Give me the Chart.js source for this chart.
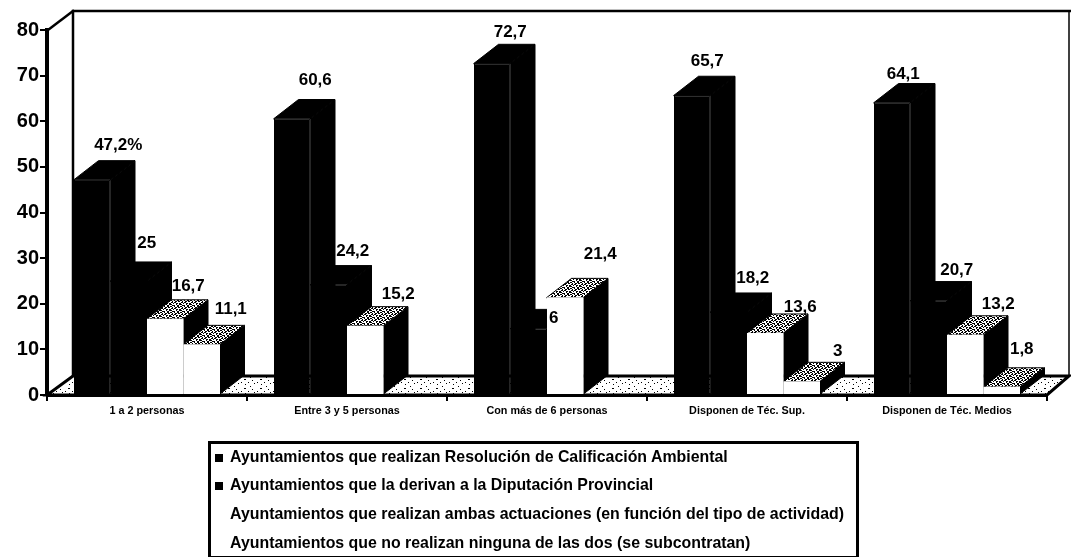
<!DOCTYPE html>
<html><head><meta charset="utf-8">
<script src="https://cdn.jsdelivr.net/npm/chart.js@4"></script>
<style>
html,body{margin:0;padding:0;background:#fff;overflow:hidden}
#wrap{position:relative;width:1071px;height:559px}
canvas{position:absolute;left:0;top:0}
#legend{position:absolute;left:208px;top:441px;width:645px;height:112px;border:2px solid #000;border-width:3px 3px 1px 3px;
 font:bold 15.9px "Liberation Sans",Arial,sans-serif;color:#000;box-sizing:content-box}
#legend div{position:absolute;left:19px;white-space:nowrap;line-height:18px}
#legend i{position:absolute;left:-15px;top:6px;width:8px;height:8px;display:block}
</style></head><body>
<div id="wrap"><canvas id="c" width="1071" height="559"></canvas><div id="legend"></div></div>
<script>
const categories = ["1 a 2 personas","Entre 3 y 5 personas","Con más de 6 personas","Disponen de Téc. Sup.","Disponen de Téc. Medios"];
const seriesNames = ["Ayuntamientos que realizan Resolución de Calificación Ambiental","Ayuntamientos que la derivan a la Diputación Provincial","Ayuntamientos que realizan ambas actuaciones (en función del tipo de actividad)","Ayuntamientos que no realizan ninguna de las dos (se subcontratan)"];
const resolucion = [47.2,60.6,72.7,65.7,64.1];
const diputacion = [25,24.2,14.6,18.2,20.7];
const ambas = [16.7,15.2,21.4,13.6,13.2];
const ninguna = [11.1,0,0,3,1.8];
const yTicks = [0,10,20,30,40,50,60,70,80];
const printedLabels = [
 ["47,2%","60,6","72,7","65,7","64,1"],
 ["25","24,2","6","18,2","20,7"],
 ["16,7","15,2","21,4","13,6","13,2"],
 ["11,1","","","3","1,8"]];
/* hand placement of the annotations relative to each bar's front-top point */
const labelNudge = [
 [[26,-34],[23,-38],[18,-31],[15,-34],[11,-28]],
 [[18,-38],[24,-33],[25,-10],[24,-34],[28,-30]],
 [[23,-32],[33,-31],[35,-43],[35,-26],[33,-30]],
 [[29,-35],[0,0],[0,0],[36,-30],[20,-37]]];
const DX=24.5, DY=-19;
function makeTile(rows){const c=document.createElement('canvas');c.width=rows[0].length;c.height=rows.length;const t=c.getContext('2d');
 t.fillStyle='#fff';t.fillRect(0,0,c.width,c.height);t.fillStyle='#000';
 rows.forEach((r,y)=>[...r].forEach((b,x)=>{if(b==='1')t.fillRect(x,y,1,1);}));return c;}
const topTile=makeTile(["1100100110","0010011011","0110110000","1001001101","1100001001","0011100110"]);
const floorTile=makeTile(["0000000000000000","0000110000000000","0000000000001000","0000000000000000","0100000010000000","0000000000000010","0000010000000000","0000000000000000","0000000000100000"]);
const speckleSeries=[false,false,true,true];
const depth3D={id:'depth3D',beforeDatasetsDraw(chart){
 const ctx=chart.ctx,a=chart.chartArea,pat=ctx.createPattern(topTile,'repeat'),fpat=ctx.createPattern(floorTile,'repeat');
 const poly=(p)=>{ctx.beginPath();p.forEach((q,i)=>i?ctx.lineTo(q[0],q[1]):ctx.moveTo(q[0],q[1]));ctx.closePath();};
 ctx.save();
 ctx.strokeStyle='#000';ctx.lineCap='square';
 ctx.lineWidth=2.5;ctx.beginPath();ctx.moveTo(a.left+26,a.bottom+DY);ctx.lineTo(a.left+26,a.top+DY);ctx.lineTo(1071,a.top+DY);ctx.stroke();
 ctx.beginPath();ctx.moveTo(a.left+1,a.top);ctx.lineTo(a.left+26,a.top+DY);ctx.stroke();
 ctx.lineWidth=1.5;ctx.beginPath();ctx.moveTo(a.right+22,a.top+DY);ctx.lineTo(a.right+22,a.bottom+DY);ctx.stroke();
 poly([[a.left,a.bottom],[a.right,a.bottom],[a.right+22,a.bottom+DY],[a.left+26,a.bottom+DY]]);
 ctx.fillStyle=fpat;ctx.fill();ctx.lineWidth=3;ctx.stroke();
 chart.data.datasets.forEach((ds,i)=>{
  chart.getDatasetMeta(i).data.forEach((bar,j)=>{
   if(!ds.data[j])return;
   const w=bar.width,l=bar.x-w/2,r=bar.x+w/2,t=bar.y,b=bar.base;
   ctx.lineWidth=1;
   ctx.fillStyle='#000';
   poly([[r,t],[r+DX,t+DY],[r+DX,b+DY],[r,b]]);ctx.fill();ctx.stroke();
   poly([[l,t],[l+DX,t+DY],[r+DX,t+DY],[r,t]]);
   ctx.fillStyle=speckleSeries[i]?pat:'#000';ctx.fill();ctx.stroke();
  });
 });
 ctx.restore();
}};
const barLabels={id:'barLabels',afterDatasetsDraw(chart){
 const ctx=chart.ctx;ctx.save();ctx.fillStyle='#000';ctx.font='bold 17px "Liberation Sans",Arial,sans-serif';ctx.textAlign='center';ctx.textBaseline='middle';
 printedLabels.forEach((row,i)=>{const m=chart.getDatasetMeta(i);
  row.forEach((s,j)=>{if(!s)return;const b=m.data[j];const n=labelNudge[i][j];ctx.fillText(s,b.x+n[0],b.y+n[1]);});});
 ctx.restore();
}};
const fills=['#000','#000','#fff','#fff'];
new Chart(document.getElementById('c'),{
 type:'bar',
 data:{labels:categories,datasets:[resolucion,diputacion,ambas,ninguna].map((d,i)=>({label:seriesNames[i],data:d,backgroundColor:fills[i],borderColor:fills[i],borderWidth:i<2?1:0,categoryPercentage:0.73,barPercentage:1}))},
 plugins:[depth3D,barLabels],
 options:{responsive:false,animation:false,layout:{padding:{top:30,right:24,left:0,bottom:0}},
  plugins:{legend:{display:false},tooltip:{enabled:false}},
  scales:{
   x:{grid:{display:true,drawOnChartArea:false,offset:true,color:'#000',lineWidth:2,tickLength:6},border:{display:true,color:'#000',width:3},
      ticks:{color:'#000',font:{family:'"Liberation Sans",Arial,sans-serif',size:10.8,weight:'bold'},padding:4,maxRotation:0,autoSkip:false},
      afterFit(s){s.height=559-395;}},
   y:{min:0,max:80,grid:{drawOnChartArea:false,color:'#000',lineWidth:2,tickLength:7},border:{display:true,color:'#000',width:4},
      afterBuildTicks(s){s.ticks=yTicks.map(v=>({value:v}));},
      ticks:{color:'#000',font:{family:'"Liberation Sans",Arial,sans-serif',size:20,weight:'bold'},padding:1},
      afterFit(s){s.width=47;}}
  }}
});
const lg=document.getElementById('legend');const lineTops=[4,32,61,90];
seriesNames.forEach((n,i)=>{const d=document.createElement('div');d.style.top=lineTops[i]+'px';d.textContent=n;
 const m=document.createElement('i');if(i<2)m.style.background='#000';d.appendChild(m);lg.appendChild(d);});
</script></body></html>
